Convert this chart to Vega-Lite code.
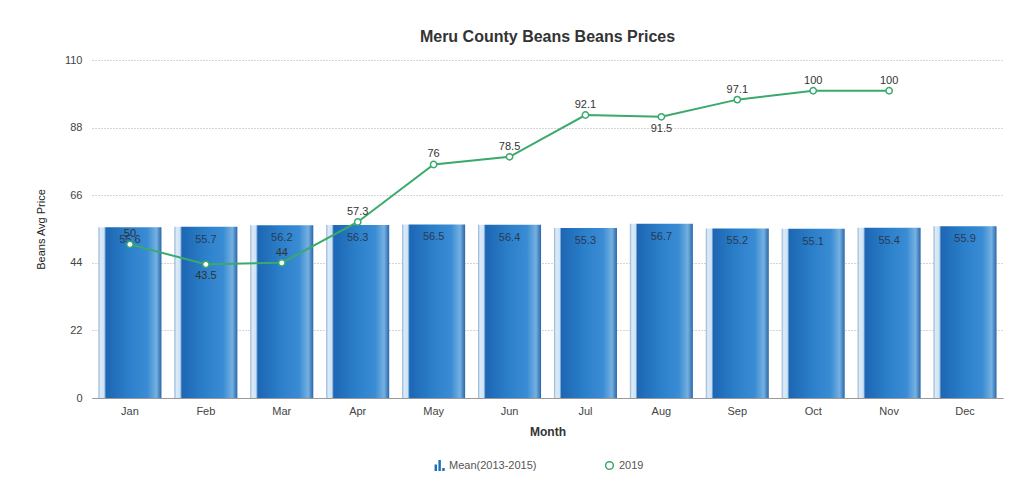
{
  "$schema": "https://vega.github.io/schema/vega-lite/v6.json",
  "autosize": {"type": "none"},
  "width": 911,
  "height": 338,
  "padding": {"left": 92, "top": 60, "right": 15, "bottom": 95},
  "background": "white",
  "title": {
    "text": "Meru County Beans Beans Prices",
    "font": "Liberation Sans",
    "fontSize": 16,
    "fontWeight": "bold",
    "color": "#333333",
    "offset": 9,
    "anchor": "middle"
  },
  "data": {
    "values": [
      {"month": "Jan", "mean": 55.6, "y2019": 50},
      {"month": "Feb", "mean": 55.7, "y2019": 43.5},
      {"month": "Mar", "mean": 56.2, "y2019": 44},
      {"month": "Apr", "mean": 56.3, "y2019": 57.3},
      {"month": "May", "mean": 56.5, "y2019": 76},
      {"month": "Jun", "mean": 56.4, "y2019": 78.5},
      {"month": "Jul", "mean": 55.3, "y2019": 92.1},
      {"month": "Aug", "mean": 56.7, "y2019": 91.5},
      {"month": "Sep", "mean": 55.2, "y2019": 97.1},
      {"month": "Oct", "mean": 55.1, "y2019": 100},
      {"month": "Nov", "mean": 55.4, "y2019": 100},
      {"month": "Dec", "mean": 55.9, "y2019": null}
    ]
  },
  "encoding": {
    "x": {
      "field": "month",
      "type": "ordinal",
      "sort": null,
      "title": "Month",
      "scale": {"paddingInner": 0.17, "paddingOuter": 0.085},
      "axis": {
        "labelAngle": 0,
        "labelFont": "Liberation Sans",
        "labelFontSize": 11,
        "labelColor": "#444444",
        "labelPadding": 7,
        "titleFont": "Liberation Sans",
        "titleFontSize": 12,
        "titleFontWeight": "bold",
        "titleColor": "#333333",
        "titlePadding": 10,
        "ticks": false,
        "domainColor": "#999999",
        "grid": false
      }
    }
  },
  "layer": [
    {
      "mark": {
        "type": "bar",
        "color": {
          "gradient": "linear",
          "x1": 0, "y1": 0, "x2": 1, "y2": 0,
          "stops": [
            {"offset": 0, "color": "#8aaed2"},
            {"offset": 0.03, "color": "#dbeaf7"},
            {"offset": 0.09, "color": "#cfe3f5"},
            {"offset": 0.12, "color": "#1d66b3"},
            {"offset": 0.45, "color": "#2a7dc8"},
            {"offset": 0.78, "color": "#3a8dd4"},
            {"offset": 0.92, "color": "#76b0e0"},
            {"offset": 1, "color": "#2766aa"}
          ]
        }
      },
      "encoding": {
        "y": {
          "field": "mean",
          "type": "quantitative",
          "title": "Beans Avg Price",
          "scale": {"domain": [0, 110], "nice": false},
          "axis": {
            "values": [0, 22, 44, 66, 88, 110],
            "labelFont": "Liberation Sans",
            "labelFontSize": 11,
            "labelColor": "#444444",
            "labelPadding": 10,
            "ticks": false,
            "domain": false,
            "grid": true,
            "gridDash": [1, 2],
            "gridColor": "#aaaaaa",
            "titleFont": "Liberation Sans",
            "titleFontSize": 11,
            "titleFontWeight": "normal",
            "titleColor": "#222222",
            "titlePadding": 18
          }
        }
      }
    },
    {
      "mark": {"type": "point", "shape": "square", "opacity": 0, "filled": true},
      "encoding": {
        "y": {"field": "mean", "type": "quantitative"},
        "fill": {
          "datum": "Mean(2013-2015)",
          "type": "nominal",
          "scale": {"range": ["#1f6fb8"]},
          "legend": {
            "orient": "none",
            "legendX": 342,
            "legendY": 400,
            "title": null,
            "symbolType": "M-0.9,1V-0.2H-0.45V1Z M-0.2,1V-1H0.25V1Z M0.5,1V0.45H0.95V1Z",
            "symbolOpacity": 1,
            "symbolSize": 120,
            "symbolStrokeWidth": 0,
            "labelFont": "Liberation Sans",
            "labelFontSize": 11,
            "labelColor": "#555555"
          }
        }
      }
    },
    {
      "mark": {"type": "text", "baseline": "top", "dy": 7, "font": "Liberation Sans", "fontSize": 11, "color": "#2a3a52"},
      "encoding": {
        "y": {"field": "mean", "type": "quantitative"},
        "text": {"field": "mean", "type": "quantitative"}
      }
    },
    {
      "mark": {"type": "line", "color": "#3aa96b", "strokeWidth": 2},
      "encoding": {
        "y": {"field": "y2019", "type": "quantitative"}
      }
    },
    {
      "mark": {"type": "point", "filled": false, "fill": "white", "fillOpacity": 1, "shape": "circle", "strokeWidth": 1.5, "size": 40, "opacity": 1},
      "encoding": {
        "y": {"field": "y2019", "type": "quantitative"},
        "stroke": {
          "datum": "2019",
          "type": "nominal",
          "scale": {"range": ["#3aa96b"]},
          "legend": {
            "orient": "none",
            "legendX": 512,
            "legendY": 400,
            "title": null,
            "symbolType": "circle",
            "symbolSize": 60,
            "symbolStrokeWidth": 1.5,
            "symbolFillColor": "white",
            "labelFont": "Liberation Sans",
            "labelFontSize": 11,
            "labelColor": "#555555"
          }
        }
      }
    },
    {
      "transform": [{"filter": "datum.y2019 != null && datum.month !== 'Feb' && datum.month !== 'Aug'"}],
      "mark": {"type": "text", "baseline": "bottom", "dy": -5, "font": "Liberation Sans", "fontSize": 11, "color": "#333333"},
      "encoding": {
        "y": {"field": "y2019", "type": "quantitative"},
        "text": {"field": "y2019", "type": "quantitative"}
      }
    },
    {
      "transform": [{"filter": "datum.month === 'Feb' || datum.month === 'Aug'"}],
      "mark": {"type": "text", "baseline": "top", "dy": 6, "font": "Liberation Sans", "fontSize": 11, "color": "#333333"},
      "encoding": {
        "y": {"field": "y2019", "type": "quantitative"},
        "text": {"field": "y2019", "type": "quantitative"}
      }
    }
  ],
  "config": {
    "view": {"stroke": null},
    "font": "Liberation Sans"
  }
}
